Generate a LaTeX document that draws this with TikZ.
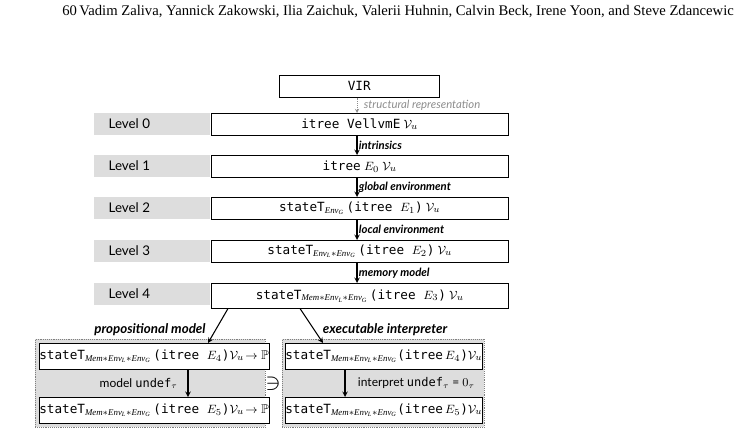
\documentclass[tikz,border=0pt]{standalone}
\usepackage{amssymb}
\usepackage{fontspec}
\setmainfont{Liberation Serif}
\setsansfont{Lato}
\setmonofont{DejaVu Sans Mono}
\usetikzlibrary{positioning}
\definecolor{bandgray}{RGB}{221,221,221}
\definecolor{notegray}{RGB}{140,140,140}
\tikzset{
  band/.style={fill=bandgray, draw=none, minimum width=0.75*116, minimum height=0.75*22, anchor=north west, inner sep=0pt},
  levelbox/.style={draw=black, fill=white, minimum width=0.75*297, minimum height=0.75*22, anchor=north west, inner sep=0pt, font=\fontsize{9.5}{11}\selectfont},
  lvl/.style={font=\sffamily\fontsize{10}{12}\selectfont, anchor=west},
  steplabel/.style={font=\sffamily\bfseries\itshape\fontsize{8.5}{10}\selectfont, anchor=west, inner sep=1pt},
  group/.style={draw=gray, densely dotted, fill=bandgray, anchor=north west, inner sep=0pt},
  semibox/.style={draw=black, fill=white, anchor=north west, inner sep=0pt, minimum height=0.75*26, font=\fontsize{9.5}{11}\selectfont},
  down/.style={->, >=stealth, thick}
}
\newcommand{\stT}[1]{\texttt{stateT}$_{\mathit{#1}}$}
\begin{document}
\begin{tikzpicture}[x=0.75pt,y=-0.75pt]
\useasboundingbox (0,0) rectangle (738,436);
% header
\node[anchor=west, font=\fontsize{11}{13}\selectfont, inner sep=0pt] (head) at (62,12)
  {60\,Vadim Zaliva, Yannick Zakowski, Ilia Zaichuk, Valerii Huhnin, Calvin Beck, Irene Yoon, and Steve Zdancewic};
% VIR
\node[draw, minimum width=0.75*160, minimum height=0.75*22, anchor=north west, inner sep=0pt, font=\fontsize{9.5}{11}\selectfont] (vir) at (279,75) {\texttt{VIR}};
% levels
\foreach \i/\y in {0/113,1/155,2/197,3/240,4/283}{
  \node[band] (band\i) at (94,\y) {};
  \node[lvl] at (104,\y+11) {Level \i};
}
\node[levelbox] (l0) at (211,113) {\texttt{itree VellvmE} $\mathcal{V}_u$};
\node[levelbox] (l1) at (211,155) {\texttt{itree} $E_0$ $\mathcal{V}_u$};
\node[levelbox] (l2) at (211,197) {\stT{Env_G}\,\texttt{(itree }$E_1$\texttt{)} $\mathcal{V}_u$};
\node[levelbox] (l3) at (211,240) {\stT{Env_L*Env_G}\,\texttt{(itree }$E_2$\texttt{)} $\mathcal{V}_u$};
\node[levelbox, minimum height=0.75*25] (l4) at (211,283) {\stT{Mem*Env_L*Env_G}\,\texttt{(itree }$E_3$\texttt{)} $\mathcal{V}_u$};
% transitions
\draw[->, >=stealth, densely dotted, notegray] (vir.south -| 357,0) -- (l0.north -| 357,0)
  node[midway, steplabel, font=\sffamily\itshape\fontsize{8.5}{10}\selectfont, text=notegray, xshift=4] {structural representation};
\draw[down] (l0.south -| 357,0) -- (l1.north -| 357,0) node[midway, steplabel] {intrinsics};
\draw[down] (l1.south -| 357,0) -- (l2.north -| 357,0) node[midway, steplabel] {global environment};
\draw[down] (l2.south -| 357,0) -- (l3.north -| 357,0) node[midway, steplabel] {local environment};
\draw[down] (l3.south -| 357,0) -- (l4.north -| 357,0) node[midway, steplabel] {memory model};
% propositional model
\node[group, minimum width=0.75*230, minimum height=0.75*88] (propg) at (35,339) {};
\node[semibox, minimum width=0.75*222] (p4) at (39,343) {\stT{Mem*Env_L*Env_G}\,\texttt{(itree }$E_4$\texttt{)}$\mathcal{V}_u\!\to\mathbb{P}$};
\node[semibox, minimum width=0.75*222] (p5) at (39,397) {\stT{Mem*Env_L*Env_G}\,\texttt{(itree }$E_5$\texttt{)}$\mathcal{V}_u\!\to\mathbb{P}$};
\draw[down] (p4.south -| 188,0) -- (p5.north -| 188,0)
  node[midway, left=4pt, font=\sffamily\fontsize{9}{11}\selectfont] {model \texttt{undef}$_\tau$};
\node[steplabel, anchor=south, font=\sffamily\bfseries\itshape\fontsize{10}{12}\selectfont] at (150,337) {propositional model};
% executable interpreter
\node[group, minimum width=0.75*202, minimum height=0.75*88] (execg) at (282,339) {};
\node[semibox, minimum width=0.75*196] (e4) at (285,343) {\stT{Mem*Env_L*Env_G}\texttt{(itree}\,$E_4$\texttt{)}$\mathcal{V}_u$};
\node[semibox, minimum width=0.75*196] (e5) at (285,397) {\stT{Mem*Env_L*Env_G}\texttt{(itree}\,$E_5$\texttt{)}$\mathcal{V}_u$};
\draw[down] (e4.south -| 345,0) -- (e5.north -| 345,0)
  node[midway, right=6pt, font=\sffamily\fontsize{9}{11}\selectfont] {interpret \texttt{undef}$_\tau$ = $0_\tau$};
\node[steplabel, anchor=south, font=\sffamily\bfseries\itshape\fontsize{10}{12}\selectfont] at (385,337) {executable interpreter};
\node[font=\fontsize{16}{16}\selectfont] (ni) at (273,384) {$\ni$};
% split
\draw[down] (l4.south -| 228,0) -- (p4.north -| 208,0);
\draw[down] (l4.south -| 300,0) -- (e4.north -| 323,0);
\end{tikzpicture}
\end{document}
